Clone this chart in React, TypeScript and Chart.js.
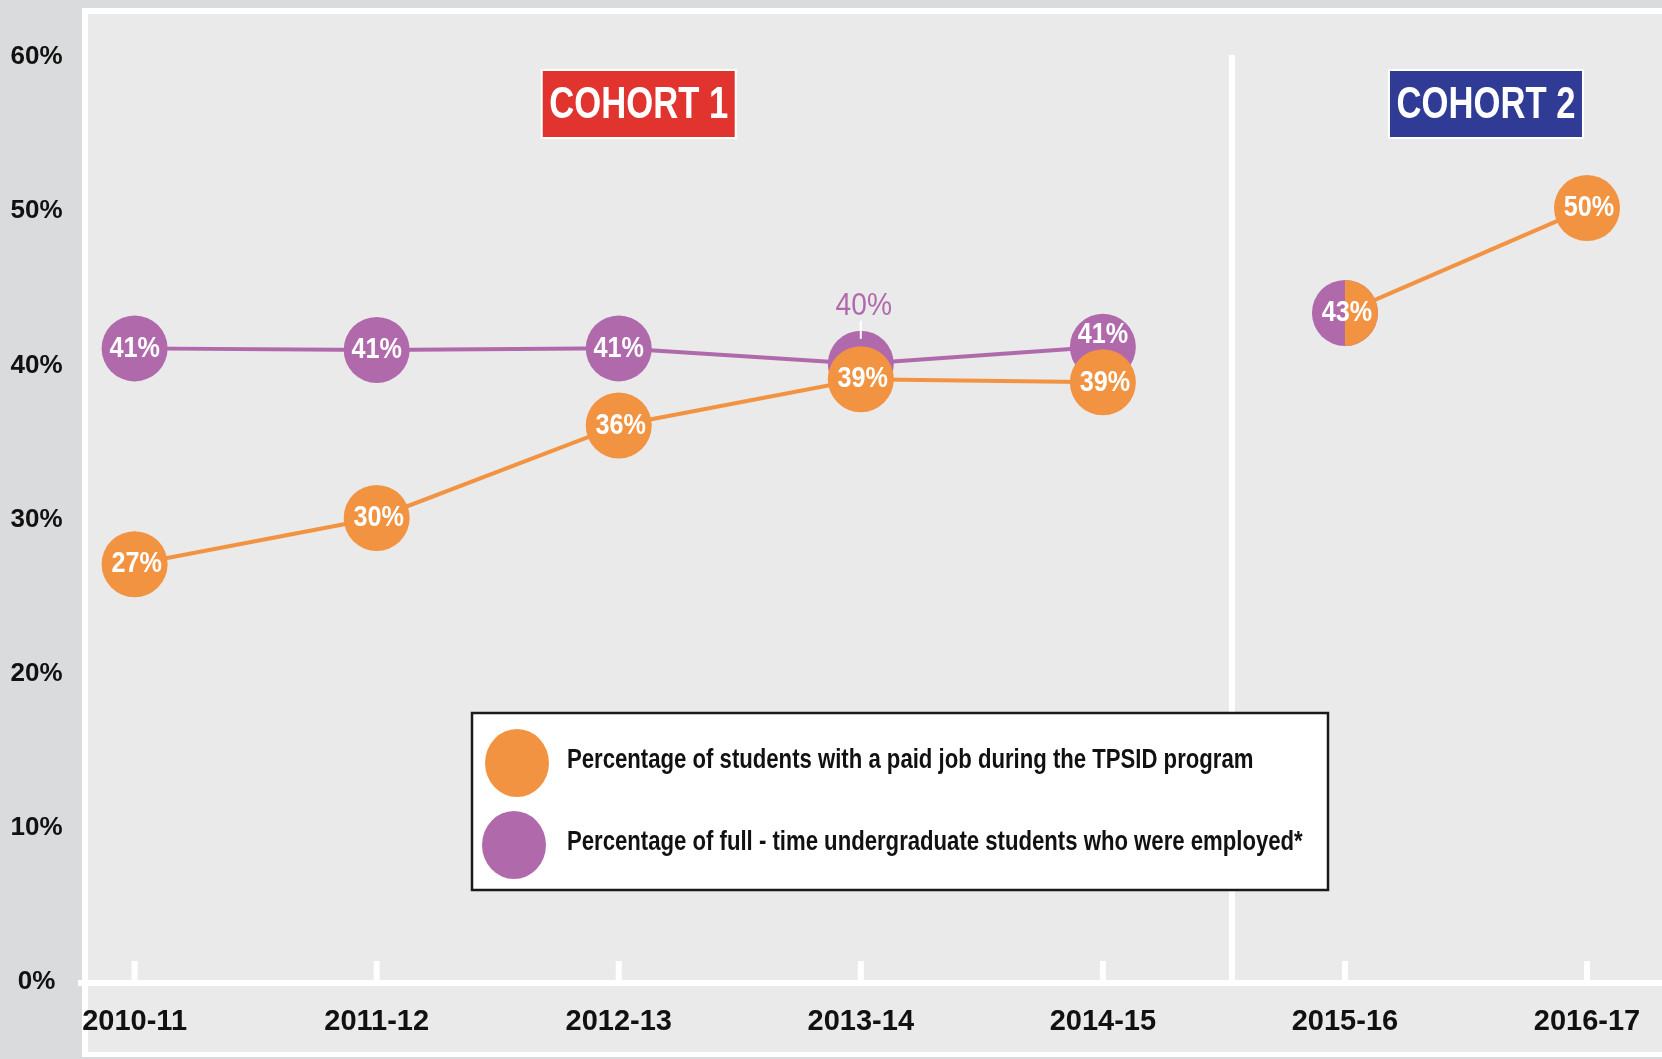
import React, { useEffect, useRef } from "react";
import { Chart, registerables } from "chart.js";

Chart.register(...registerables);

// ---------- data ----------
const categories = ["2010-11", "2011-12", "2012-13", "2013-14", "2014-15", "2015-16", "2016-17"];
const cohorts = [1, 1, 1, 1, 1, 2, 2];
const cohortNames = ["COHORT 1", "COHORT 2"];
const paidJob = [27.1, 30.1, 36.1, 39.1, 38.9, 43.4, 50.2];
const fullTimeEmployed: (number | null)[] = [41.1, 41.0, 41.1, 40.1, 41.2, 43.4, null];
const yTicks = [0, 10, 20, 30, 40, 50, 60];
const seriesLabels = [
  "Percentage of students with a paid job during the TPSID program",
  "Percentage of full - time undergraduate students who were employed*",
];

// ---------- style ----------
const W = 1662;
const H = 1059;
const ORANGE = "#F29341";
const PURPLE = "#B06AAC";
const COHORT_COLORS = ["#E1342F", "#2F3B95"];
const FONT = "'Liberation Sans', Arial, sans-serif";
const R = 33;

function makeHalfCircle(color: string): HTMLCanvasElement {
  const c = document.createElement("canvas");
  c.width = 2 * R;
  c.height = 2 * R;
  const g = c.getContext("2d")!;
  g.fillStyle = color;
  g.beginPath();
  g.moveTo(R, 0);
  g.arc(R, R, R, -Math.PI / 2, Math.PI / 2, false);
  g.closePath();
  g.fill();
  return c;
}

// draw horizontally condensed text (emulates a condensed typeface)
function narrowText(ctx: CanvasRenderingContext2D, text: string, x: number, y: number, sx: number, align: CanvasTextAlign) {
  ctx.save();
  ctx.translate(x, y);
  ctx.scale(sx, 1);
  ctx.textAlign = align;
  ctx.textBaseline = "middle";
  ctx.fillText(text, 0, 0);
  ctx.restore();
}

const bgPlugin = {
  id: "bgPanel",
  beforeDraw(chart: any) {
    const { ctx, scales } = chart;
    const x = scales.x;
    const y = scales.y;
    const y0 = y.getPixelForValue(0);
    const yTop = y.getPixelForValue(60);
    ctx.save();
    ctx.fillStyle = "#DADBDD";
    ctx.fillRect(0, 0, W, H);
    ctx.fillStyle = "#FFFFFF";
    ctx.fillRect(82, 8, W - 82, 1057 - 8);
    ctx.fillStyle = "#EAEAEA";
    ctx.fillRect(88, 14, W - 88, 1052 - 14);

    // axis line and tick marks
    ctx.fillStyle = "#FFFFFF";
    ctx.fillRect(78, y0 - 2, W - 78, 6);
    categories.forEach((_, i) => {
      const px = x.getPixelForValue(i);
      ctx.fillRect(px - 3, y0 - 21, 6, 21);
    });

    // cohort divider
    for (let i = 1; i < categories.length; i++) {
      if (cohorts[i] !== cohorts[i - 1]) {
        const px = (x.getPixelForValue(i - 1) + x.getPixelForValue(i)) / 2 + 8;
        ctx.fillRect(px - 3, yTop - 2, 6, y0 - yTop);
      }
    }

    // cohort boxes
    cohortNames.forEach((name, ci) => {
      const idx = categories.map((_, i) => i).filter((i) => cohorts[i] === ci + 1);
      const cx = idx.reduce((s, i) => s + x.getPixelForValue(i), 0) / idx.length + 20;
      const bw = 194;
      const bh = 68;
      const bx = cx - bw / 2;
      const by = 70;
      ctx.fillStyle = COHORT_COLORS[ci];
      ctx.fillRect(bx, by, bw, bh);
      ctx.strokeStyle = "#FFFFFF";
      ctx.lineWidth = 2;
      ctx.strokeRect(bx, by, bw, bh);
      ctx.fillStyle = "#FFFFFF";
      ctx.font = `bold 45px ${FONT}`;
      narrowText(ctx, name, cx, by + bh / 2 + 2, 0.77, "center");
    });

    // legend box
    const lx = 472;
    const ly = 713;
    const lw = 856;
    const lh = 177;
    ctx.fillStyle = "#FFFFFF";
    ctx.fillRect(lx, ly, lw, lh);
    ctx.strokeStyle = "#1A1A1A";
    ctx.lineWidth = 2.5;
    ctx.strokeRect(lx, ly, lw, lh);
    chart.data.datasets.forEach((ds: any, i: number) => {
      const cy = 763 + i * 82;
      ctx.fillStyle = ds.borderColor;
      ctx.beginPath();
      ctx.ellipse(517 - i * 3, cy, 32, 34, 0, 0, Math.PI * 2);
      ctx.fill();
      ctx.fillStyle = "#111111";
      ctx.font = `bold 27px ${FONT}`;
      narrowText(ctx, ds.label, 567, cy - 2, 0.82, "left");
    });
    ctx.restore();
  },
};

const labelPlugin = {
  id: "pointLabels",
  afterDatasetsDraw(chart: any) {
    const { ctx } = chart;
    const orangeMeta = chart.getDatasetMeta(0);
    const purpleMeta = chart.getDatasetMeta(1);
    const oData = chart.data.datasets[0].data as (number | null)[];
    const pData = chart.data.datasets[1].data as (number | null)[];
    ctx.save();

    // purple labels
    purpleMeta.data.forEach((pt: any, i: number) => {
      const v = pData[i];
      if (v == null) return;
      const ov = oData[i];
      let ly = pt.y;
      if (ov != null) {
        if (Math.round(ov) === Math.round(v)) return; // shared point, labelled by orange
        const d = orangeMeta.data[i].y - pt.y;
        if (Math.abs(d) < R * 0.8) {
          // hidden under the orange point: call-out above
          ctx.fillStyle = PURPLE;
          ctx.font = `32px ${FONT}`;
          narrowText(ctx, `${Math.round(v)}%`, pt.x + 3, pt.y - 58, 0.88, "center");
          ctx.strokeStyle = "#FFFFFF";
          ctx.lineWidth = 2;
          ctx.beginPath();
          ctx.moveTo(pt.x, pt.y - 43);
          ctx.lineTo(pt.x, pt.y - 25);
          ctx.stroke();
          return;
        }
        if (d > 0 && d < 2 * R) ly = pt.y - (2 * R - d) * 0.4;
      }
      ctx.fillStyle = "#FFFFFF";
      ctx.font = `bold 30px ${FONT}`;
      narrowText(ctx, `${Math.round(v)}%`, pt.x, ly, 0.84, "center");
    });

    // orange labels
    orangeMeta.data.forEach((pt: any, i: number) => {
      const v = oData[i];
      if (v == null) return;
      ctx.fillStyle = "#FFFFFF";
      ctx.font = `bold 30px ${FONT}`;
      narrowText(ctx, `${Math.round(v)}%`, pt.x + 2, pt.y, 0.84, "center");
    });
    ctx.restore();
  },
};

export default function App() {
  const ref = useRef<HTMLCanvasElement | null>(null);

  useEffect(() => {
    document.body.style.margin = "0";
    const canvas = ref.current;
    if (!canvas) return;
    const half = makeHalfCircle(ORANGE);
    const segColor = (color: string) => (ctx: any) =>
      cohorts[ctx.p0DataIndex] !== cohorts[ctx.p1DataIndex] ? "rgba(0,0,0,0)" : color;

    const chart = new Chart(canvas, {
      type: "line",
      data: {
        labels: categories,
        datasets: [
          {
            label: seriesLabels[0],
            data: paidJob,
            borderColor: ORANGE,
            backgroundColor: ORANGE,
            borderWidth: 4,
            pointRadius: R,
            pointHoverRadius: R,
            pointBorderWidth: 0,
            pointStyle: (c: any) => {
              const i = c.dataIndex;
              const p = fullTimeEmployed[i];
              return p != null && Math.round(p) === Math.round(paidJob[i]) ? half : "circle";
            },
            segment: { borderColor: segColor(ORANGE) },
            clip: false,
            fill: false,
            tension: 0,
          } as any,
          {
            label: seriesLabels[1],
            data: fullTimeEmployed,
            borderColor: PURPLE,
            backgroundColor: PURPLE,
            borderWidth: 4,
            pointRadius: R,
            pointHoverRadius: R,
            pointBorderWidth: 0,
            pointStyle: "circle",
            segment: { borderColor: segColor(PURPLE) },
            clip: false,
            fill: false,
            tension: 0,
          } as any,
        ],
      },
      options: {
        animation: false,
        responsive: false,
        maintainAspectRatio: false,
        events: [],
        layout: { padding: { top: 57, right: 75, bottom: 0, left: 0 } },
        plugins: {
          legend: { display: false },
          tooltip: { enabled: false },
        },
        scales: {
          x: {
            type: "category",
            offset: false,
            grid: { display: false, drawTicks: false },
            border: { display: false },
            ticks: {
              font: { family: FONT, size: 29, weight: "bold" },
              color: "#111111",
              padding: 23,
              maxRotation: 0,
              autoSkip: false,
            },
            afterFit: (s: any) => {
              s.height = H - 982;
              s.paddingLeft = 0;
              s.paddingRight = 0;
            },
          },
          y: {
            min: 0,
            max: 60,
            afterBuildTicks: (s: any) => {
              s.ticks = yTicks.map((v) => ({ value: v }));
            },
            grid: { display: false, drawTicks: false },
            border: { display: false },
            ticks: {
              callback: (v: any) => `${v}%`,
              font: { family: FONT, size: 26, weight: "bold" },
              color: "#111111",
              crossAlign: "center",
              padding: 72,
            },
            afterFit: (s: any) => {
              s.width = 134.6;
              s.paddingTop = 0;
              s.paddingBottom = 0;
            },
          },
        },
      } as any,
      plugins: [bgPlugin, labelPlugin],
    });
    return () => chart.destroy();
  }, []);

  return (
    <div style={{ width: W, height: H }}>
      <canvas ref={ref} width={W} height={H} style={{ display: "block" }} />
    </div>
  );
}
